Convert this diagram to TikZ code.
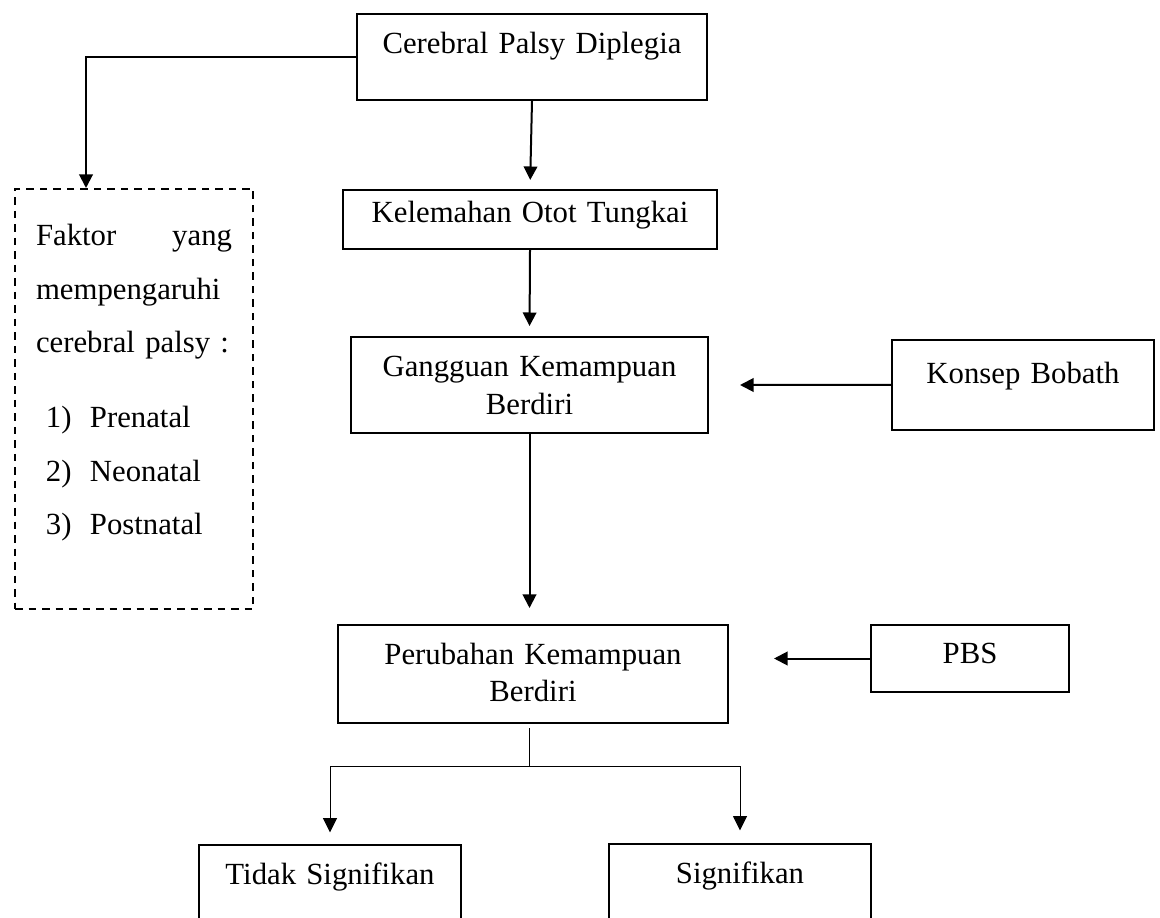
\documentclass[tikz,border=0pt]{standalone}
\usepackage{fontspec}
\setmainfont{Liberation Serif}
\usepackage{tikz}
\usetikzlibrary{arrows.meta, calc}
\tikzstyle{process} = [rectangle, anchor=north west, inner sep=0pt, align=center, draw=black, line width=0.8pt]
\tikzstyle{factor} = [rectangle, anchor=north west, inner xsep=8.4pt, inner ysep=0pt, align=left, draw=black, line width=0.8pt, dash pattern=on 3pt off 2.4pt]
\tikzstyle{arrow} = [line width=0.8pt, -{Triangle[length=5.4pt, width=5.4pt]}]
\tikzstyle{branch} = [line width=0.4pt, -{Triangle[length=5.8pt, width=5.6pt]}]

\begin{document}
\begin{tikzpicture}[x=0.4pt, y=-0.4pt, font=\fontsize{12.3pt}{14.8pt}\selectfont]
\useasboundingbox (0,0) rectangle (1160,918);
\clip (0,0) rectangle (1160,918);

\node (cp) [process, text width=140pt, text height=16pt, text depth=18.4pt] at (356,13) {Cerebral Palsy Diplegia};
\node (kot) [process, text width=149.6pt, text height=13.2pt, text depth=10.4pt] at (342,189) {Kelemahan Otot Tungkai};
\node (gkb) [process, text width=142.8pt, text height=16pt, text depth=22.4pt] at (350,336) {Gangguan Kemampuan\\Berdiri};
\node (pkb) [process, text width=156pt, text height=15.6pt, text depth=23.6pt] at (337,624) {Perubahan Kemampuan\\Berdiri};
\node (bobath) [process, text width=104.8pt, text height=17.6pt, text depth=18.4pt] at (891,339) {Konsep Bobath};
\node (pbs) [process, text width=79.2pt, text height=15.2pt, text depth=11.6pt] at (870,624) {PBS};
\node (ts) [process, text width=104.8pt, text height=15.6pt, text depth=22pt] at (198,844) {Tidak Signifikan};
\node (sig) [process, text width=104.8pt, text height=15.6pt, text depth=22pt] at (608,843) {Signifikan};
\node (faktor) [factor, text width=78.4pt, text height=22.8pt, text depth=145.2pt] at (14,188)
  {Faktor\hfill yang\\[6.6pt]
   mempengaruhi\\[6.6pt]
   cerebral palsy :\\[15.2pt]
   \hspace*{4pt}\makebox[17.6pt][l]{1)}Prenatal\\[6.6pt]
   \hspace*{4pt}\makebox[17.6pt][l]{2)}Neonatal\\[6.6pt]
   \hspace*{4pt}\makebox[17.6pt][l]{3)}Postnatal};
\coordinate (split) at (529,766);

\draw [arrow] (cp.west) -| ($(faktor.north west)!0.3!(faktor.north east)$);
\draw [arrow, shorten >=3.6pt] (cp.south) -- (kot.north);
\draw [arrow, shorten >=4pt] (kot.south) -- (gkb.north);
\draw [arrow, shorten >=6.4pt] (gkb.south) -- (gkb.south |- pkb.north);
\draw [arrow, shorten >=12.4pt] (bobath.west) -- (gkb.east);
\draw [arrow, shorten >=18pt] (pbs.west) -- (pkb.east |- pbs.west);
\draw [line width=0.4pt, shorten <=1.6pt] (split |- pkb.south) -- (split);
\draw [branch, shorten >=4.6pt] (split) -| (ts.north);
\draw [branch, shorten >=5pt] (split) -| (sig.north);
\end{tikzpicture}
\end{document}
